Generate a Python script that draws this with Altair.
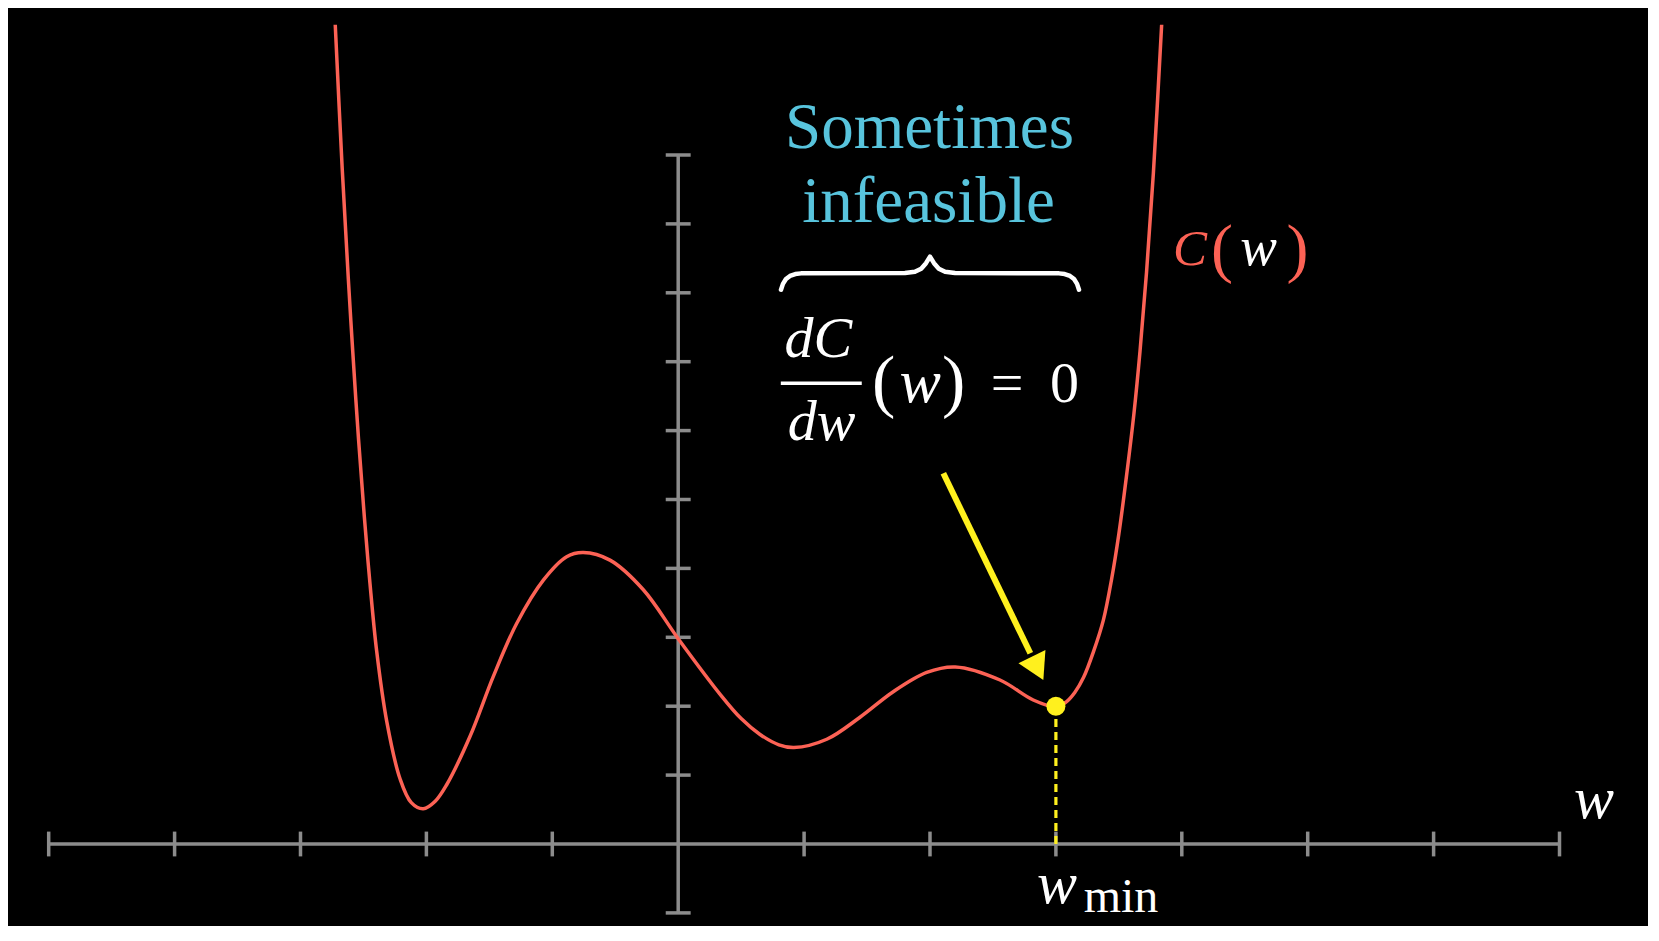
import altair as alt
import pandas as pd

# ---------------- data ----------------
curve_w = [-2.724, -2.670, -2.620, -2.585, -2.540, -2.493, -2.448, -2.395, -2.315,
           -2.210, -2.120, -2.025, -1.930, -1.839, -1.654, -1.469, -1.283, -1.071,
           -0.886, -0.754, -0.542, -0.277, 0.000, 0.330, 0.500, 0.650, 0.800, 0.920,
           1.180, 1.444, 1.708, 1.974, 2.200, 2.556, 2.820, 3.000, 3.080, 3.150,
           3.220, 3.300, 3.377, 3.443, 3.500, 3.560, 3.620, 3.668, 3.720, 3.774, 3.840]
curve_c = [11.89, 9.85, 8.20, 7.15, 5.90, 4.75, 3.78, 2.80, 1.78,
           0.95, 0.60, 0.51, 0.62, 0.86, 1.56, 2.43, 3.20, 3.83,
           4.17, 4.23, 4.12, 3.69, 2.98, 2.18, 1.82, 1.59, 1.44, 1.40,
           1.52, 1.84, 2.21, 2.49, 2.57, 2.38, 2.09, 1.99, 2.06, 2.20,
           2.42, 2.80, 3.25, 3.85, 4.50, 5.33, 6.25, 7.15, 8.30, 9.73, 11.89]

x_ticks = [-5, -4, -3, -2, -1, 1, 2, 3, 4, 5, 6, 7]
y_ticks = [-1, 1, 2, 3, 4, 5, 6, 7, 8, 9, 10]
x_axis_range = [-5, 7]
y_axis_range = [-1, 10]

w_min = 3.0
c_at_min = 2.0

# arrow (data units): tail, shaft end, head centre
arrow_x = [2.106, 2.797]
arrow_y = [5.380, 2.768]
head_x = [2.855]
head_y = [2.550]

# brace (data units)
brace_x = [0.8165, 0.8320, 0.8560, 0.8880, 0.9300, 0.9750, 1.8014, 1.8800, 1.9300, 1.9682, 2.0000,
           2.0318, 2.0700, 2.1200, 2.1986, 3.0250, 3.0700, 3.1120, 3.1440, 3.1680, 3.1835]
brace_y = [8.045, 8.130, 8.200, 8.245, 8.272, 8.282, 8.287, 8.305, 8.350, 8.430, 8.525,
           8.430, 8.350, 8.305, 8.287, 8.282, 8.272, 8.245, 8.200, 8.130, 8.045]

RED = "#FC6255"
BLUE = "#58C4DD"
YELLOW = "#FFF01E"
GREY = "#8C8C8C"
WHITE = "#FFFFFF"
FONT = "Liberation Serif"

W, H = 1640, 918
XS = alt.Scale(domain=[-5.3232, 7.7029], nice=False, zero=False)
YS = alt.Scale(domain=[-1.1901, 12.1335], nice=False, zero=False)


def X(f):
    return alt.X(f, type="quantitative", scale=XS, axis=None)


def Y(f):
    return alt.Y(f, type="quantitative", scale=YS, axis=None)


# ---------------- axes ----------------
xaxis = alt.Chart(pd.DataFrame({"x": [x_axis_range[0]], "x2": [x_axis_range[1]], "y": [0]})).mark_rule(
    color=GREY, strokeWidth=3.5).encode(x=X("x"), x2="x2", y=Y("y"))
yaxis = alt.Chart(pd.DataFrame({"y": [y_axis_range[0]], "y2": [y_axis_range[1]], "x": [0]})).mark_rule(
    color=GREY, strokeWidth=3.5).encode(y=Y("y"), y2="y2", x=X("x"))

xt = pd.DataFrame({"x": x_ticks})
xt["y"] = -0.18
xt["y2"] = 0.18
xticks = alt.Chart(xt).mark_rule(color=GREY, strokeWidth=3.5).encode(x=X("x"), y=Y("y"), y2="y2")

yt = pd.DataFrame({"y": y_ticks})
yt["x"] = -0.099
yt["x2"] = 0.099
yticks = alt.Chart(yt).mark_rule(color=GREY, strokeWidth=3.5).encode(y=Y("y"), x=X("x"), x2="x2")

# ---------------- curve ----------------
curve = alt.Chart(pd.DataFrame({"w": curve_w, "c": curve_c})).mark_line(
    color=RED, strokeWidth=3.5, interpolate="catmull-rom").encode(x=X("w"), y=Y("c"))

# ---------------- minimum marker ----------------
dashed = alt.Chart(pd.DataFrame({"x": [w_min], "y": [0], "y2": [c_at_min]})).mark_rule(
    color=YELLOW, strokeWidth=3.2, strokeDash=[8, 5]).encode(x=X("x"), y=Y("y"), y2="y2")
dot = alt.Chart(pd.DataFrame({"x": [w_min], "y": [c_at_min]})).mark_circle(
    color=YELLOW, size=361, opacity=1).encode(x=X("x"), y=Y("y"))

shaft = alt.Chart(pd.DataFrame({"x": [arrow_x[0]], "x2": [arrow_x[1]], "y": [arrow_y[0]], "y2": [arrow_y[1]]})).mark_rule(
    color=YELLOW, strokeWidth=6).encode(x=X("x"), x2="x2", y=Y("y"), y2="y2")
head = alt.Chart(pd.DataFrame({"x": head_x, "y": head_y})).mark_point(
    shape="triangle-up", filled=True, color=YELLOW, size=900, angle=154, opacity=1).encode(x=X("x"), y=Y("y"))

# ---------------- brace ----------------
brace = alt.Chart(pd.DataFrame({"x": brace_x, "y": brace_y, "i": list(range(len(brace_x)))})).mark_line(
    color=WHITE, strokeWidth=4.5, interpolate="linear", strokeJoin="round", strokeCap="round").encode(
    x=X("x"), y=Y("y"), order="i:O")

frac_bar = alt.Chart(pd.DataFrame({"x": [0.815], "x2": [1.458], "y": [6.686]})).mark_rule(
    color=WHITE, strokeWidth=3.5).encode(x=X("x"), x2="x2", y=Y("y"))


# ---------------- texts ----------------
def text_layer(xs, ys, texts, size, color, style="normal"):
    df = pd.DataFrame({"x": xs, "y": ys, "t": texts})
    return alt.Chart(df).mark_text(
        font=FONT, fontSize=size, color=color, fontStyle=style, align="center", baseline="alphabetic"
    ).encode(x=X("x"), y=Y("y"), text="t:N")


t_blue = text_layer([1.996, 1.988], [10.10, 9.03], ["Sometimes", "infeasible"], 65, BLUE)
t_frac = text_layer([1.114, 1.138], [7.068, 5.864], ["dC", "dw"], 58, WHITE, "italic")
t_paren = text_layer([1.631, 2.187], [6.39, 6.39], ["(", ")"], 70, WHITE)
t_w = text_layer([1.921], [6.415], ["w"], 62, WHITE, "italic")
t_eq = text_layer([2.612, 3.068], [6.415, 6.415], ["=", "0"], 58, WHITE)

t_C = text_layer([4.065], [8.40], ["C"], 51, RED, "italic")
t_Cp = text_layer([4.32, 4.919], [8.33, 8.33], ["(", ")"], 66, RED)
t_Cw = text_layer([4.609], [8.40], ["w"], 55, WHITE, "italic")

t_axis = text_layer([7.274], [0.377], ["w"], 60, WHITE, "italic")
t_wmin = text_layer([3.009], [-0.861], ["w"], 60, WHITE, "italic")
t_min = text_layer([3.517], [-0.983], ["min"], 48, WHITE)

chart = alt.layer(
    xaxis, yaxis, xticks, yticks, curve, dashed, shaft, head, dot, brace, frac_bar,
    t_blue, t_frac, t_paren, t_w, t_eq, t_C, t_Cp, t_Cw, t_axis, t_wmin, t_min
).properties(
    width=W, height=H, autosize=alt.AutoSizeParams(type="none"), padding=0, background="black"
).configure_view(stroke=None)

chart.save("out.html", embed_options={"renderer": "svg", "actions": False})
